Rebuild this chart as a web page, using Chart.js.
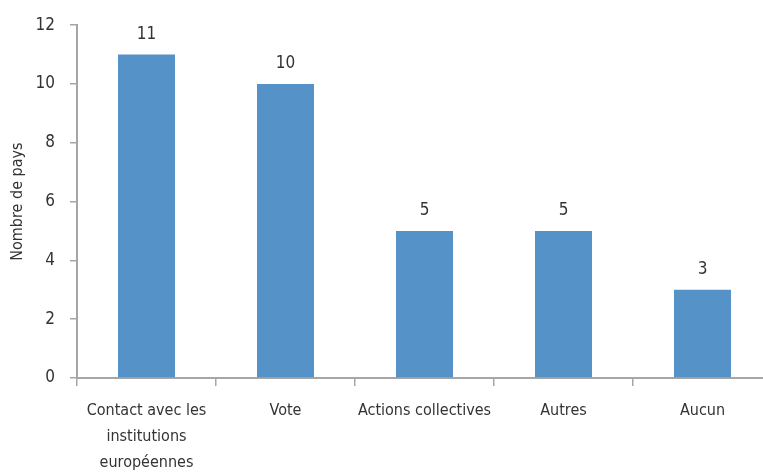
<!DOCTYPE html>
<html>
<head>
<meta charset="utf-8">
<script src="https://cdn.jsdelivr.net/npm/chart.js@4"></script>
<style>
  html, body { margin: 0; padding: 0; background: #fff; overflow: hidden; }
  #wrap { position: relative; width: 772px; height: 488px; }
</style>
</head>
<body>
<div id="wrap"><canvas id="barChart"></canvas></div>
<script>
// données
const categories = [
    ['Contact avec les', 'institutions', 'européennes'],
    'Vote',
    'Actions collectives',
    'Autres',
    'Aucun'
];
const nombrePays = [11, 10, 5, 5, 3];
const yTicks = [0, 2, 4, 6, 8, 10, 12];

const police = "'DejaVu Sans Condensed', 'Liberation Sans Narrow', sans-serif";
const couleurTexte = '#333333';
const couleurAxe = '#a6a6a6';

// étiquettes de valeur au-dessus des barres
const valeursBarres = {
    id: 'valeursBarres',
    afterDatasetsDraw(chart) {
        const ctx = chart.ctx;
        const meta = chart.getDatasetMeta(0);
        ctx.save();
        ctx.font = '17px ' + police;
        ctx.fillStyle = couleurTexte;
        ctx.textAlign = 'center';
        ctx.textBaseline = 'bottom';
        meta.data.forEach((bar, i) => {
            ctx.fillText(String(nombrePays[i]), bar.x, bar.y - 12);
        });
        ctx.restore();
    }
};

new Chart(document.getElementById('barChart').getContext('2d'), {
    type: 'bar',
    data: {
        labels: categories,
        datasets: [{
            data: nombrePays,
            backgroundColor: '#5592c8',
            borderWidth: 0,
            barPercentage: 0.41,
            categoryPercentage: 1.0
        }]
    },
    options: {
        responsive: true,
        maintainAspectRatio: false,
        animation: false,
        layout: { padding: { top: 16, left: 0, right: 0, bottom: 0 } },
        plugins: {
            legend: { display: false },
            tooltip: { enabled: false }
        },
        scales: {
            x: {
                offset: true,
                grid: {
                    offset: true,
                    drawOnChartArea: false,
                    color: couleurAxe,
                    tickLength: 8,
                    lineWidth: 1.5
                },
                border: { color: couleurAxe, width: 2 },
                ticks: {
                    color: couleurTexte,
                    font: { family: police, size: 16, lineHeight: '26px' },
                    maxRotation: 0,
                    autoSkip: false,
                    padding: 12
                }
            },
            y: {
                min: 0,
                max: 12,
                afterBuildTicks(axis) {
                    axis.ticks = yTicks.map(v => ({ value: v }));
                },
                afterFit(axis) {
                    axis.width = 77;
                },
                grid: {
                    drawOnChartArea: false,
                    color: couleurAxe,
                    tickLength: 7,
                    lineWidth: 1.5
                },
                border: { color: couleurAxe, width: 2 },
                ticks: {
                    color: couleurTexte,
                    font: { family: police, size: 17 },
                    padding: 15
                },
                title: {
                    display: true,
                    text: 'Nombre de pays',
                    color: couleurTexte,
                    font: { family: police, size: 16 },
                    padding: { top: 8, bottom: 0 }
                }
            }
        }
    },
    plugins: [valeursBarres]
});
</script>
</body>
</html>
